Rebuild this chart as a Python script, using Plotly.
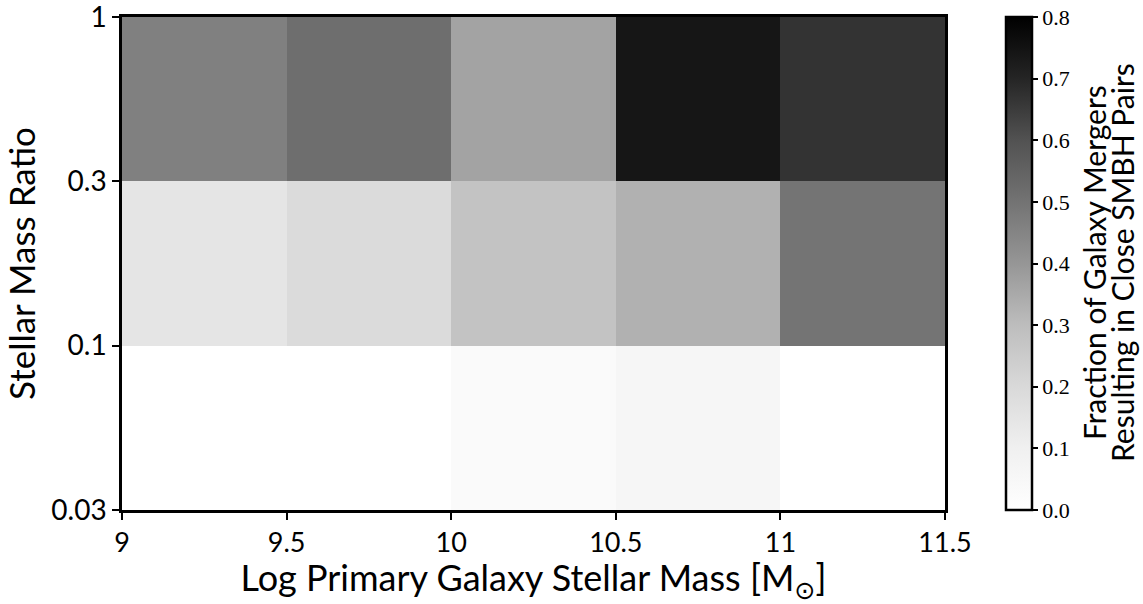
import plotly.graph_objects as go

# Data
mass_edges = [9.0, 9.5, 10.0, 10.5, 11.0, 11.5]
ratio_labels = ["0.03", "0.1", "0.3", "1"]
ratio_edges = [0, 1, 2, 3]
# rows: q bins 0.03-0.1, 0.1-0.3, 0.3-1
frac_low = [0.0, 0.0, 0.033, 0.06, 0.0]
frac_mid = [0.148, 0.191, 0.278, 0.331, 0.497]
frac_high = [0.463, 0.515, 0.367, 0.741, 0.669]
z = [frac_low, frac_mid, frac_high]
cbar_title_lines = ["Fraction of Galaxy Mergers", "Resulting in Close SMBH Pairs"]

greys = [[0.0, "#ffffff"], [0.125, "#f0f0f0"], [0.25, "#d9d9d9"], [0.375, "#bdbdbd"],
         [0.5, "#969696"], [0.625, "#737373"], [0.75, "#525252"], [0.875, "#252525"],
         [1.0, "#000000"]]

sans = "Lato, DejaVu Sans, sans-serif"
serif = "Liberation Serif, DejaVu Serif, serif"

L, R, T, B = 122, 198, 17, 94
W, H = 1143, 604
pw, ph = W - L - R, H - T - B

fig = go.Figure(go.Heatmap(
    x=mass_edges, y=ratio_edges, z=z, colorscale=greys, zmin=0, zmax=0.8,
    colorbar=dict(
        x=(1006 - L) / pw, xanchor="left", xref="paper", xpad=0, ypad=0,
        y=0.5, yanchor="middle", len=1.0,
        lenmode="fraction", thickness=26, outlinecolor="black", outlinewidth=2.5,
        tickmode="array", tickvals=[0, 0.1, 0.2, 0.3, 0.4, 0.5, 0.6, 0.7, 0.8],
        ticktext=["0.0", "0.1", "0.2", "0.3", "0.4", "0.5", "0.6", "0.7", "0.8"],
        ticks="outside", ticklen=5, tickwidth=1.5, tickcolor="black",
        tickfont=dict(family=serif, size=22, color="black"),
    ),
))

annots = []
for line, xc in zip(cbar_title_lines, [1094, 1122]):
    annots.append(dict(
        text=line, x=(xc - L) / pw, y=(H - B - 263) / ph, xref="paper", yref="paper",
        showarrow=False, textangle=-90,
        font=dict(family=sans, size=30, color="black"),
        xanchor="center", yanchor="middle",
    ))

fig.update_layout(
    width=W, height=H,
    margin=dict(l=L, r=R, t=T, b=B, autoexpand=False),
    paper_bgcolor="white", plot_bgcolor="white",
    xaxis=dict(
        range=[9, 11.5], tickmode="array",
        tickvals=[9, 9.5, 10, 10.5, 11, 11.5],
        ticktext=["9", "9.5", "10", "10.5", "11", "11.5"],
        ticks="outside", ticklen=7, tickwidth=2, tickcolor="black",
        showline=True, linecolor="black", linewidth=2.5, mirror=True,
        showgrid=False, zeroline=False, ticklabeloverflow="allow",
        tickfont=dict(family=sans, size=27, color="black"),
        title=dict(text="Log Primary Galaxy Stellar Mass [M<sub>⊙</sub>]",
                   font=dict(family=sans, size=36, color="black"), standoff=2),
    ),
    yaxis=dict(
        range=[0, 3], tickmode="array", tickvals=ratio_edges, ticktext=ratio_labels,
        ticks="outside", ticklen=7, tickwidth=2, tickcolor="black",
        showline=True, linecolor="black", linewidth=2.5, mirror=True,
        showgrid=False, zeroline=False, ticklabeloverflow="allow",
        tickfont=dict(family=sans, size=28, color="black"),
        title=dict(text="Stellar Mass Ratio",
                   font=dict(family=sans, size=35, color="black"), standoff=8),
    ),
    annotations=annots,
)

fig.write_html("out.html")
